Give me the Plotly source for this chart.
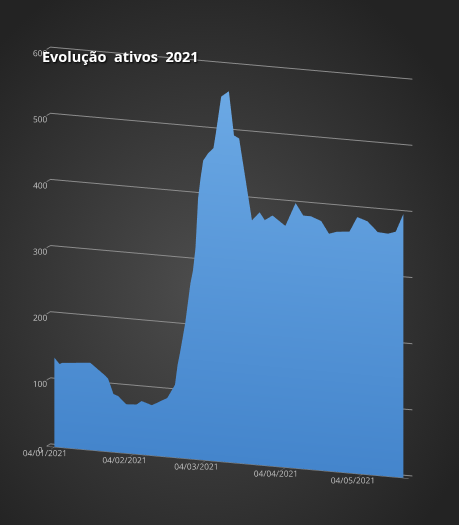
import base64

import pandas as pd
import plotly.graph_objects as go

# values (dd/mm/yyyy)
dates = [
    "04/01/2021", "06/01/2021", "07/01/2021", "18/01/2021", "24/01/2021",
    "25/01/2021", "27/01/2021", "29/01/2021", "01/02/2021", "05/02/2021",
    "07/02/2021", "11/02/2021", "17/02/2021", "20/02/2021", "21/02/2021",
    "22/02/2021", "24/02/2021", "26/02/2021", "27/02/2021", "28/02/2021",
    "01/03/2021", "02/03/2021", "03/03/2021", "05/03/2021", "07/03/2021",
    "08/03/2021", "10/03/2021", "13/03/2021", "15/03/2021", "17/03/2021",
    "22/03/2021", "25/03/2021", "27/03/2021", "30/03/2021", "04/04/2021",
    "08/04/2021", "11/04/2021", "14/04/2021", "18/04/2021", "21/04/2021",
    "24/04/2021", "29/04/2021", "02/05/2021", "06/05/2021", "10/05/2021",
    "14/05/2021", "17/05/2021", "20/05/2021",
]
ativos = [
    135, 126, 128, 132, 114,
    110, 88, 85, 74, 75,
    81, 76, 89, 110, 140,
    160, 205, 265, 285, 320,
    395, 427, 453, 465, 473,
    498, 552, 561, 495, 491,
    369, 382, 371, 379, 365,
    401, 383, 383, 377, 359,
    363, 365, 388, 383, 368,
    367, 371, 399,
]
tick_labels = ["04/01/2021", "04/02/2021", "04/03/2021", "04/04/2021", "04/05/2021"]
value_ticks = [0, 100, 200, 300, 400, 500, 600]

d = pd.to_datetime(dates, format="%d/%m/%Y")
start = d[0]
days = [(x - start).days for x in d]
tick_days = [(pd.to_datetime(t, format="%d/%m/%Y") - start).days for t in tick_labels]
n = len(days)

# dark radial background
svg = (
    '<svg xmlns="http://www.w3.org/2000/svg" width="459" height="525">'
    '<defs><radialGradient id="g" cx="45%" cy="55%" r="65%">'
    '<stop offset="0" stop-color="#4d4d4d"/><stop offset="1" stop-color="#232323"/>'
    '</radialGradient></defs><rect width="459" height="525" fill="url(#g)"/></svg>'
)
bg = "data:image/svg+xml;base64," + base64.b64encode(svg.encode()).decode()

fig = go.Figure()
fig.add_trace(
    go.Surface(
        x=[days, days],
        y=[[0] * n, [0] * n],
        z=[[0] * n, ativos],
        surfacecolor=[[0] * n, ativos],
        colorscale=[[0, "#4485cc"], [1, "#6eabe6"]],
        cmin=0,
        cmax=600,
        showscale=False,
        lighting=dict(ambient=1, diffuse=0, specular=0, fresnel=0, roughness=1),
        hoverinfo="skip",
    )
)

axis_font = dict(family="Open Sans", size=10, color="#c4c4c4")
fig.update_layout(
    width=459,
    height=525,
    margin=dict(l=0, r=0, t=0, b=0),
    paper_bgcolor="#2e2e2e",
    images=[dict(source=bg, xref="paper", yref="paper", x=0, y=1, sizex=1, sizey=1,
                 sizing="stretch", layer="below")],
    scene=dict(
        domain=dict(x=[0, 1], y=[0, 1]),
        bgcolor="rgba(0,0,0,0)",
        aspectmode="manual",
        aspectratio=dict(x=1.48, y=0.04, z=1.556),
        camera=dict(eye=dict(x=0.835, y=-2.14, z=0.535),
                    projection=dict(type="orthographic")),
        xaxis=dict(
            range=[-3, days[-1] + 2], tickvals=tick_days, ticktext=tick_labels, tickangle=0,
            showgrid=False, zeroline=False, showbackground=False, showspikes=False,
            showline=True, linecolor="#8a8a8a", ticks="outside", tickcolor="#8a8a8a",
            tickfont=axis_font, title=dict(text=""),
        ),
        yaxis=dict(range=[0, 1], visible=False, showspikes=False),
        zaxis=dict(
            range=[-0.5, 601], tickvals=value_ticks, tickangle=0,
            showgrid=True, gridcolor="#8c8c8c", tickcolor="#8a8a8a",
            zeroline=False, showbackground=False, showspikes=False, showline=False,
            tickfont=axis_font, title=dict(text=""),
        ),
    ),
    annotations=[
        dict(
            text="Evolução\u00a0 ativos\u00a0 2021",
            xref="paper", yref="paper", x=40 / 459, y=1 - 57 / 525,
            xanchor="left", yanchor="middle", showarrow=False,
            font=dict(family="Open Sans", size=14.5, color="white", weight="bold",
                      shadow="1px 1px 2px #000000"),
        )
    ],
)

fig.write_html(
    "out.html",
    config={"displayModeBar": False},
    post_script="document.body.style.margin='0';",
)
